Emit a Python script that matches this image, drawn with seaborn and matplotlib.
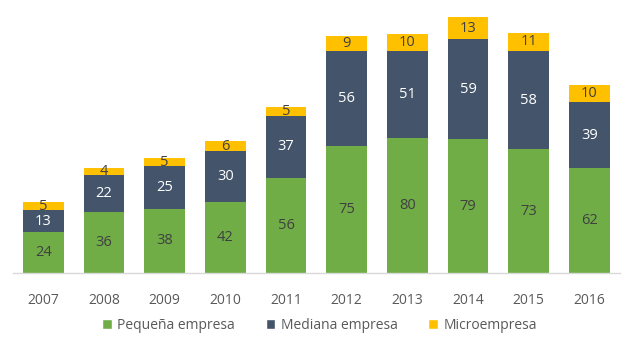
import matplotlib
matplotlib.use("Agg")
import matplotlib.pyplot as plt
import seaborn as sns
import pandas as pd
import numpy as np
from matplotlib.patches import Patch

years = ["2007", "2008", "2009", "2010", "2011", "2012", "2013", "2014", "2015", "2016"]
pequena = [24, 36, 38, 42, 56, 75, 80, 79, 73, 62]
mediana = [13, 22, 25, 30, 37, 56, 51, 59, 58, 39]
micro = [5, 4, 5, 6, 5, 9, 10, 13, 11, 10]
series_names = ["Pequeña empresa", "Mediana empresa", "Microempresa"]
colors = ["#70AD47", "#44546A", "#FFC000"]
label_colors = ["#404040", "#FFFFFF", "#404040"]

sns.set_style("white")
plt.rcParams["font.family"] = ["Open Sans", "DejaVu Sans"]

fig = plt.figure(figsize=(6.33, 3.47), dpi=100)
ax = fig.add_axes([0.0205, 0.213, 0.9585, 0.781])

df = pd.DataFrame({"year": years, "p": pequena, "m": mediana, "u": micro})
bottoms = np.zeros(len(years))
for col, name, c, lc in zip(["p", "m", "u"], series_names, colors, label_colors):
    sns.barplot(data=df, x="year", y=col, color=c, bottom=bottoms, width=0.67,
                ax=ax, saturation=1, linewidth=0)
    vals = df[col].values
    for i, v in enumerate(vals):
        ax.text(i, bottoms[i] + v / 2, str(v), ha="center", va="center",
                fontsize=10.5, color=lc)
    bottoms = bottoms + vals

ax.set_xlim(-0.5, 9.5)
ax.set_ylim(0, 160)
ax.set_xlabel("")
ax.set_ylabel("")
ax.set_yticks([])
for s in ["top", "right", "left"]:
    ax.spines[s].set_visible(False)
ax.spines["bottom"].set_color("#D9D9D9")
ax.spines["bottom"].set_linewidth(1)
ax.tick_params(axis="x", length=0, labelsize=10, labelcolor="#595959", pad=14)

handles = [Patch(facecolor=c, label=n) for c, n in zip(colors, series_names)]
leg = fig.legend(handles=handles, loc="center", bbox_to_anchor=(0.505, 0.062), ncol=3,
                 frameon=False, fontsize=10, handlelength=0.7, handleheight=0.7,
                 columnspacing=2.2, handletextpad=0.4)
for t in leg.get_texts():
    t.set_color("#595959")

fig.savefig("out.png", dpi=100)
